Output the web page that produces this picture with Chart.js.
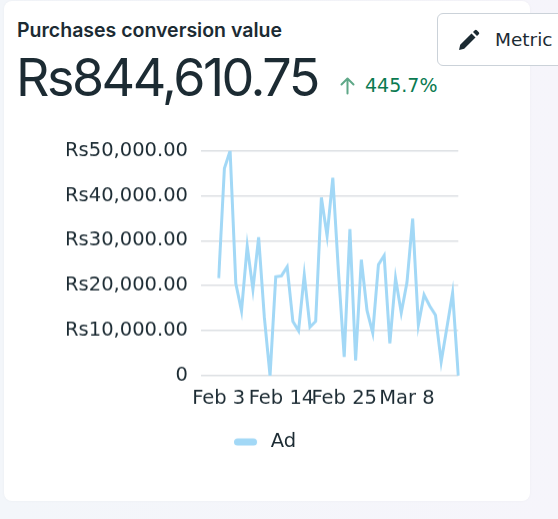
<!DOCTYPE html>
<html>
<head>
<meta charset="utf-8">
<script src="https://cdn.jsdelivr.net/npm/chart.js@4.4.1/dist/chart.umd.min.js"></script>
<style>
  html, body { margin:0; padding:0; }
  body { width:558px; height:519px; background:linear-gradient(90deg,#f3f6fa,#f6f5fb); font-family:"DejaVu Sans", sans-serif; position:relative; overflow:hidden; color:#1c2b33; }
  .card { position:absolute; left:4px; top:1px; width:526px; height:500px; background:#fff; border-radius:8px; box-shadow:0 0 3px rgba(0,0,0,0.04); }
  .t { position:absolute; line-height:1; white-space:nowrap; }
  .title { left:13px; top:19.6px; font-family:Inter, sans-serif; font-size:19.5px; font-weight:600; }
  .big { left:12px; top:50.9px; font-family:Inter, sans-serif; font-size:52px; font-weight:400; letter-spacing:-2.5px; }
  .delta { left:361px; top:74.6px; font-size:19px; color:#0a7a51; }
  .arrow { position:absolute; left:333px; top:72px; }
  .btn { position:absolute; left:437px; top:13px; width:140px; height:53px; border:1px solid #cbd2d9; border-radius:6px; background:#fff; box-sizing:border-box; }
  .btn .lbl { left:57px; top:17.3px; font-size:18.5px; }
  .btn svg { position:absolute; left:18px; top:15px; }
  #wrap { position:absolute; left:40px; top:126px; width:430px; height:334.8px; }
</style>
</head>
<body>
<div class="card">
  <div class="t title">Purchases conversion value</div>
  <div class="t big">Rs844,610.75</div>
  <svg class="arrow" width="20" height="24" viewBox="0 0 20 24"><path d="M10.5 5.5V20.5 M4.5 11.5L10.5 5.5L16.5 11.5" stroke="#5fa888" stroke-width="2" fill="none" stroke-linecap="round" stroke-linejoin="round"/></svg>
  <div class="t delta">445.7%</div>
</div>
<div class="btn">
  <svg width="24" height="24" viewBox="0 0 24 24"><path d="M3 21l1.2-5.2L15.5 4.5l4 4L8.2 19.8z M17 3l1.8-1.8a1.4 1.4 0 0 1 2 0l2 2a1.4 1.4 0 0 1 0 2L21 7z" fill="#1c2b33"/></svg>
  <span class="t lbl">Metric</span>
</div>
<div id="wrap"><canvas id="c"></canvas></div>
<script>
const dates = ["Feb 3","Feb 4","Feb 5","Feb 6","Feb 7","Feb 8","Feb 9","Feb 10","Feb 11","Feb 12","Feb 13","Feb 14","Feb 15","Feb 16","Feb 17","Feb 18","Feb 19","Feb 20","Feb 21","Feb 22","Feb 23","Feb 24","Feb 25","Feb 26","Feb 27","Feb 28","Mar 1","Mar 2","Mar 3","Mar 4","Mar 5","Mar 6","Mar 7","Mar 8","Mar 9","Mar 10","Mar 11","Mar 12","Mar 13","Mar 14","Mar 15","Mar 16","Mar 17"];
const adValues = [21700,46100,50000,20500,14400,28800,19200,30800,13000,0,22000,22200,24200,12100,10000,22400,10800,12100,39600,31100,44000,23000,4200,32600,3400,25800,14500,9500,24700,26700,7200,21700,14000,20700,34900,11300,18000,15500,13500,3100,10700,18400,0];
const shownLabels = ["Feb 3","Feb 14","Feb 25","Mar 8"];
const yTicks = [0,10000,20000,30000,40000,50000];

const gridColor = '#dcdfe3';
const lineColor = '#a2d8f6';
const tickFont = { family:'"DejaVu Sans"', size:19.5 };

// legend marker: rounded bar
const marker = document.createElement('canvas');
marker.width = 27; marker.height = 8;
(function(){ const g = marker.getContext('2d'); g.strokeStyle = lineColor; g.lineWidth = 7; g.lineCap = 'round'; g.beginPath(); g.moveTo(3.5,4); g.lineTo(19.5,4); g.stroke(); })();

new Chart(document.getElementById('c'), {
  type:'line',
  data:{ labels:dates, datasets:[{ label:'Ad', data:adValues, borderColor:lineColor, backgroundColor:lineColor, borderWidth:3, pointRadius:0, tension:0, fill:false }]},
  options:{
    responsive:true, maintainAspectRatio:false, animation:false,
    layout:{ padding:{ top:0, right:6.7, bottom:0, left:26.9 } },
    plugins:{
      legend:{ position:'bottom', labels:{ usePointStyle:true, pointStyle:marker, pointStyleWidth:27, color:'#1c2b33', font:tickFont, padding:9.55 } },
      tooltip:{ enabled:false }
    },
    scales:{
      x:{ grid:{ display:false, drawTicks:false }, border:{ display:false },
          ticks:{ autoSkip:false, maxRotation:0, color:'#1c2b33', font:tickFont, padding:11.7,
                  callback:function(v){ const l=this.getLabelForValue(v); return shownLabels.includes(l)?l:''; } } },
      y:{ min:0, max:50000, border:{ display:false },
          afterFit:(s)=>{ s.width = 151.8; },
          grid:{ color:gridColor, lineWidth:1.5, drawTicks:true, tickLength:17.7, tickColor:gridColor },
          afterBuildTicks:(s)=>{ s.ticks = yTicks.map(v=>({value:v})); },
          ticks:{ color:'#1c2b33', font:tickFont, padding:13,
                  callback:(v)=> v===0 ? '0' : 'Rs' + v.toLocaleString('en-US',{minimumFractionDigits:2, maximumFractionDigits:2}) } }
    }
  }
});
</script>
</body>
</html>
